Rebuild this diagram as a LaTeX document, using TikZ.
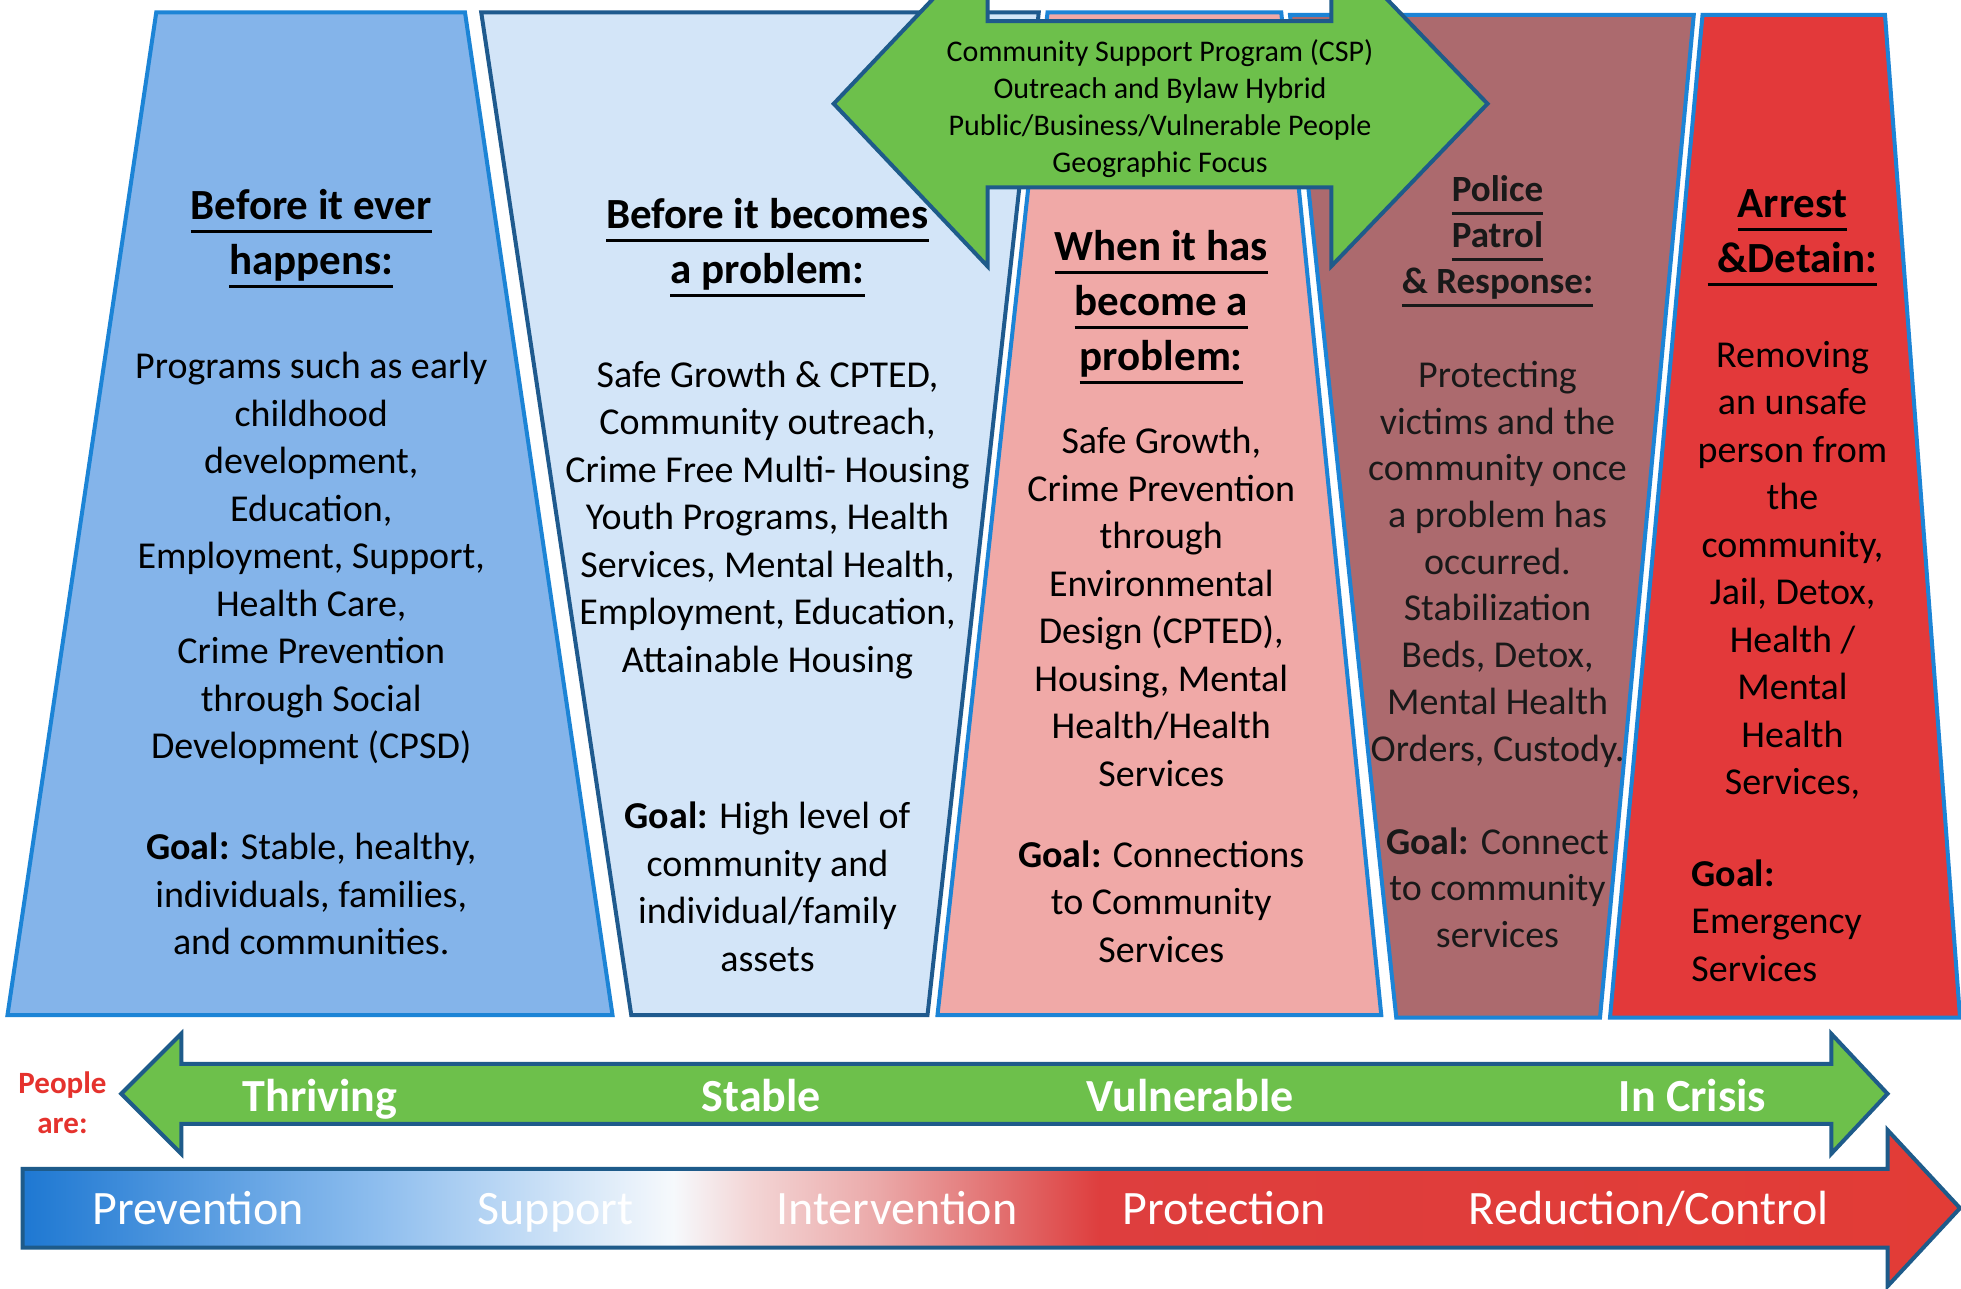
\documentclass[tikz,border=0pt]{standalone}
\usepackage{fontspec}
\setmainfont{Carlito}
\definecolor{pOne}{HTML}{84B4EA}
\definecolor{pTwo}{HTML}{D3E5F8}
\definecolor{pThree}{HTML}{F0A9A7}
\definecolor{pFour}{HTML}{AC6A6E}
\definecolor{pFive}{HTML}{E3393A}
\definecolor{bordA}{HTML}{1C84D6}
\definecolor{bordB}{HTML}{1F5A8E}
\definecolor{arrBord}{HTML}{1E5B8A}
\definecolor{grn}{HTML}{6DC04B}
\definecolor{pplRed}{HTML}{E5322D}
\definecolor{gA}{HTML}{1E78D2}
\definecolor{gB}{HTML}{8DBDEE}
\definecolor{gC}{HTML}{CFE3F7}
\definecolor{gD}{HTML}{F6F9FC}
\definecolor{gE}{HTML}{F3D5D5}
\definecolor{gF}{HTML}{EBAAAA}
\definecolor{gG}{HTML}{E27070}
\definecolor{gH}{HTML}{DE3E3E}
\definecolor{gI}{HTML}{E23C36}
\pgfdeclarehorizontalshading{protshade}{100bp}{color(0bp)=(gA); color(25bp)=(gA); color(34.1bp)=(gB); color(38.9bp)=(gC); color(41.8bp)=(gD); color(43.8bp)=(gE); color(47bp)=(gF); color(50.2bp)=(gG); color(52.8bp)=(gH); color(75bp)=(gI); color(100bp)=(gI)}
\newcommand\ulx[1]{\vtop{\hbox{\vrule height0pt depth9pt width0pt\relax#1}\kern1.5pt\hrule height 3pt}}
\begin{document}
\begin{tikzpicture}[x=1.25pt,y=-1.25pt,
  panelline/.style={line width=4pt, line join=miter},
  arrowline/.style={line width=4pt, draw=arrBord, line join=miter},
  body/.style={align=center, inner sep=0pt, font=\fontsize{38}{47.5}\selectfont,
    execute at begin node=\strut, execute at end node=\strut},
  body4/.style={body, font=\fontsize{38}{46.7}\selectfont, text=black!90},
  ttl/.style={align=center, inner sep=0pt, font=\bfseries\fontsize{43}{55}\selectfont,
    execute at begin node=\strut, execute at end node=\strut},
  ttl4/.style={ttl, font=\bfseries\fontsize{37}{46}\selectfont, text=black!90},
  csptext/.style={align=center, inner sep=0pt, font=\fontsize{30}{37}\selectfont,
    execute at begin node=\strut, execute at end node=\strut},
  glabel/.style={anchor=base, inner sep=0pt, text=white, font=\bfseries\fontsize{46}{50}\selectfont},
  slabel/.style={anchor=base, inner sep=0pt, text=white, font=\fontsize{48}{52}\selectfont}]
\useasboundingbox (0,0) rectangle (1568.8,1031.2);
\fill[white] (0,0) rectangle (1568.8,1031.2);
% panels
\draw[panelline, draw=bordA, fill=pOne] (125,10) -- (372,10) -- (490,812) -- (6,812) -- cycle;
\draw[panelline, draw=bordB, fill=pTwo] (385,10) -- (831,10) -- (742,812) -- (505,812) -- cycle;
\draw[panelline, draw=bordA, fill=pThree] (838,10) -- (1025,10) -- (1105,812) -- (750,812) -- cycle;
\draw[panelline, draw=bordA, fill=pFour] (1032,12) -- (1355,12) -- (1280,814) -- (1117,814) -- cycle;
\draw[panelline, draw=bordA, fill=pFive] (1362,12) -- (1508,12) -- (1568,814) -- (1288,814) -- cycle;
% top double arrow
\draw[arrowline, fill=grn] (667,83) -- (790,-47) -- (790,17) -- (1065,17) -- (1065,-47) -- (1190,83) -- (1065,213) -- (1065,150) -- (790,150) -- (790,213) -- cycle;
\node[csptext] (csp) at (928,89.5) {Community Support Program (CSP)\\Outreach and Bylaw Hybrid\\Public/Business/Vulnerable People\\Geographic Focus};
% panel 1
\node[ttl] (t1) at (249,192) {\ulx{Before it ever}\\\ulx{happens:}};
\node[body] (b1) at (249,450) {Programs such as early\\childhood\\development,\\Education,\\Employment, Support,\\Health Care,\\Crime Prevention\\through Social\\Development (CPSD)};
\node[body] (g1) at (249,721) {\textbf{Goal:} Stable, healthy,\\individuals, families,\\and communities.};
% panel 2
\node[ttl] (t2) at (614,199) {\ulx{Before it becomes}\\\ulx{a problem:}};
\node[body] (b2) at (614,419) {Safe Growth \& CPTED,\\Community outreach,\\Crime Free Multi- Housing\\Youth Programs, Health\\Services, Mental Health,\\Employment, Education,\\Attainable Housing};
\node[body] (g2) at (614,715) {\textbf{Goal:} High level of\\community and\\individual/family\\assets};
% panel 3
\node[ttl] (t3) at (929,247) {\ulx{When it has}\\\ulx{become a}\\\ulx{problem:}};
\node[body] (b3) at (929,491) {Safe Growth,\\Crime Prevention\\through\\Environmental\\Design (CPTED),\\Housing, Mental\\Health/Health\\Services};
\node[body] (g3) at (929,727) {\textbf{Goal:} Connections\\to Community\\Services};
% panel 4
\node[ttl4] (t4) at (1198,193) {\ulx{Police}\\\ulx{Patrol}\\\ulx{\& Response:}};
\node[body4] (b4) at (1198,454.5) {Protecting\\victims and the\\community once\\a problem has\\occurred.\\Stabilization\\Beds, Detox,\\Mental Health\\Orders, Custody.};
\node[body4] (g4) at (1198,715.5) {\textbf{Goal:} Connect\\to community\\services};
% panel 5
\node[ttl] (t5) at (1434,191.5) {\ulx{Arrest}\\\ulx{\ \&Detain:}};
\node[body] (b5) at (1434,460) {Removing\\an unsafe\\person from\\the\\community,\\Jail, Detox,\\Health /\\Mental\\Health\\Services,};
\node[body, align=left, anchor=west] (g5) at (1353,742) {\textbf{Goal:}\\Emergency\\Services};
% people are
\node[align=center, inner sep=0pt, text=pplRed, font=\bfseries\fontsize{31}{40}\selectfont,
  execute at begin node=\strut, execute at end node=\strut] (ppl) at (50,887) {People\\are:};
% green state arrow
\draw[arrowline, fill=grn] (97,875) -- (145,827) -- (145,851) -- (1465,851) -- (1465,827) -- (1510,875) -- (1465,923) -- (1465,899) -- (145,899) -- (145,923) -- cycle;
\node[glabel] (thr) at (256,889) {Thriving};
\node[glabel] (stb) at (609,889) {Stable};
\node[glabel] (vul) at (952,889) {Vulnerable};
\node[glabel] (cri) at (1354,889) {In Crisis};
% gradient arrow
\shadedraw[arrowline, shading=protshade] (18,935) -- (1510,935) -- (1510,904) -- (1568,966.5) -- (1510,1029) -- (1510,998) -- (18,998) -- cycle;
\node[slabel] (prev) at (158.5,979.5) {Prevention};
\node[slabel] (supp) at (444.5,979.5) {Support};
\node[slabel] (intv) at (717.5,979.5) {Intervention};
\node[slabel] (prot) at (979.5,979.5) {Protection};
\node[slabel] (redc) at (1319,979.5) {Reduction/Control};
\end{tikzpicture}
\end{document}
